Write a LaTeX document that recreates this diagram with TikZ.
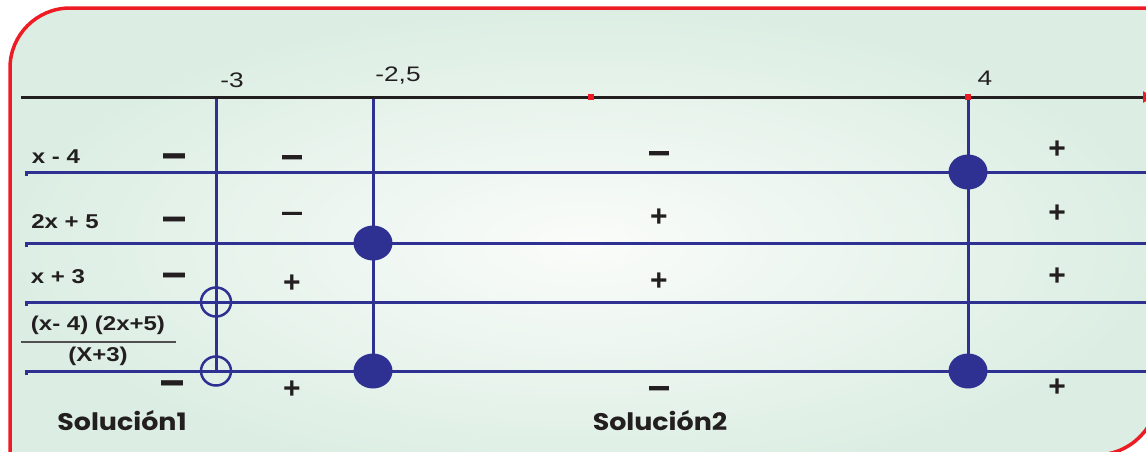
\documentclass[tikz,border=0pt]{standalone}
\usepackage{graphicx}
\usepackage{fontspec}
\setmainfont{Liberation Sans}
\newfontfamily\tickfont[FakeStretch=1.25]{Liberation Sans}
\newfontfamily\labfont[FakeStretch=1.2]{Liberation Sans}
\newfontfamily\solfont[FakeStretch=1.12]{Poppins}
\usetikzlibrary{arrows.meta,shapes.geometric}
\definecolor{lblue}{RGB}{46,49,146}
\definecolor{fred}{RGB}{237,28,36}
\definecolor{bgout}{RGB}{220,238,227}
\definecolor{bgin}{RGB}{250,252,250}
\definecolor{ink}{RGB}{35,31,32}
\definecolor{fracgray}{RGB}{80,80,80}
\begin{document}
\begin{tikzpicture}[x=1pt,y=-1pt,
  bl/.style={draw=lblue,line width=3pt},
  axisline/.style={draw=ink,line width=3pt,-{Triangle[color=fred,length=10pt,width=11pt]}},
  dot/.style={ellipse,fill=lblue,minimum width=39pt,minimum height=35pt,inner sep=0pt},
  hole/.style={ellipse,draw=lblue,line width=2.5pt,minimum width=30pt,minimum height=29pt,inner sep=0pt},
  ticklab/.style={font=\tickfont\fontsize{21}{21}\selectfont,text=ink,inner sep=0pt},
  lab/.style={font=\labfont\bfseries\fontsize{20}{20}\selectfont,text=ink,inner sep=0pt},
  plus/.style={font=\bfseries\fontsize{30}{30}\selectfont,text=ink,inner sep=0pt},
  minus/.style={font=\bfseries\fontsize{22}{22}\selectfont,text=ink,inner sep=0pt},
  minussm/.style={font=\bfseries\fontsize{20}{20}\selectfont,text=ink,inner sep=0pt},
  sol/.style={font=\solfont\bfseries\fontsize{24}{24}\selectfont,text=ink,inner sep=0pt},
  redsq/.style={fill=fred,minimum size=6pt,inner sep=0pt},
  framepath/.style={rounded corners=0pt}
]
\useasboundingbox (0,0) rectangle (1146,451);
\begin{scope}
\clip (0,0) rectangle (1146,451);
\shade[inner color=bgin, outer color=bgout]
  (10,480) -- (10,68) arc[start angle=180,end angle=270,radius=60] -- (1158,8)
  -- (1158,393) arc[start angle=0,end angle=90,radius=62] -- (10,455) -- cycle;
\draw[fred, line width=3.5pt]
  (10,480) -- (10,68) arc[start angle=180,end angle=270,radius=60] -- (1158,8)
  -- (1158,393) arc[start angle=0,end angle=90,radius=62] -- (10,455) -- cycle;
\end{scope}
% axis points
\coordinate (axL) at (21,97);
\coordinate (axR) at (1153,97);
\coordinate (a3) at (216,97);
\coordinate (a25) at (373,97);
\coordinate (a4) at (968,97);
% row lines
\foreach \n/\y in {1/172,2/243,3/302,4/371}{
  \coordinate (T\n) at (26,\y+4);
  \coordinate (L\n) at (26,\y);
  \coordinate (R\n) at (1146,\y);
  \draw[bl] (T\n) -- (L\n) -- (R\n);
}
% points
\node[dot] (d1) at (968,172) {};
\node[dot] (d2) at (373,243) {};
\node[dot] (d3) at (373,371) {};
\node[dot] (d4) at (968,371) {};
\node[hole] (o1) at (216,302) {};
\node[hole] (o2) at (216,371) {};
% vertical lines
\draw[bl] (a3) -- (o2.center);
\draw[bl] (a25) -- (d3.center);
\draw[bl] (a4) -- (d4.center);
% axis
\draw[axisline] (axL) -- (axR);
\node[redsq] (q1) at (591,97) {};
\node[redsq] (q2) at (968,97) {};
% tick labels
\node[ticklab] (t3) at (232,80) {-3};
\node[ticklab] (t25) at (398,76) {-2,5};
\node[ticklab] (t4) at (985,78) {4};
% row labels
\node[lab] (f1) at (56,157) {x - 4};
\node[lab] (f2) at (65,222) {2x + 5};
\node[lab] (f3) at (58,277) {x + 3};
\node[lab] (num) at (98,325) {(x- 4) (2x+5)};
\node[lab] (den) at (98,356) {(X+3)};
\coordinate (fl) at (21,342);
\coordinate (fr) at (176,342);
\draw[fracgray, line width=1.5pt] (fl) -- (fr);
% signs column 1
\node[minus] (s11) at (174,162) {\scalebox{1}[2.4]{—}};
\node[minus] (s12) at (174,225) {\scalebox{1}[2.2]{—}};
\node[minus] (s13) at (174,281) {\scalebox{1}[2.2]{—}};
\node[minus] (s14) at (172,389) {\scalebox{1}[2.4]{—}};
% column 2
\node[minussm] (s21) at (292,163) {\scalebox{1}[2.2]{—}};
\node[minussm] (s22) at (292,217) {\scalebox{1}[1.6]{—}};
\node[plus] (s23) at (292,284) {+};
\node[plus] (s24) at (292,390) {+};
% column 3
\node[minussm] (s31) at (659,159) {\scalebox{1}[2.2]{—}};
\node[plus] (s32) at (659,218) {+};
\node[plus] (s33) at (659,282) {+};
\node[minussm] (s34) at (659,393) {\scalebox{1}[2.2]{—}};
% column 4
\node[plus] (s41) at (1057,150) {+};
\node[plus] (s42) at (1057,214) {+};
\node[plus] (s43) at (1057,277) {+};
\node[plus] (s44) at (1057,388) {+};
% solutions
\node[sol] (sol1) at (122,421) {Solución1};
\node[sol] (sol2) at (660,421) {Solución2};
\end{tikzpicture}
\end{document}
